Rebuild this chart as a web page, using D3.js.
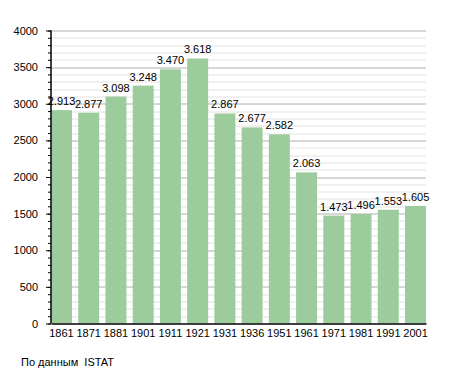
<!DOCTYPE html>
<html>
<head>
<meta charset="utf-8">
<script src="https://cdn.jsdelivr.net/npm/d3@7"></script>
<style>
  body { margin: 0; background: #fff; }
  text { font-family: "Liberation Sans", Arial, sans-serif; }
</style>
</head>
<body>
<div id="chart"></div>
<script>
// Chart data
var years = ["1861", "1871", "1881", "1901", "1911", "1921", "1931", "1936", "1951", "1961", "1971", "1981", "1991", "2001"];
var population = [2913, 2877, 3098, 3248, 3470, 3618, 2867, 2677, 2582, 2063, 1473, 1496, 1553, 1605];
var valueLabels = ["2.913", "2.877", "3.098", "3.248", "3.470", "3.618", "2.867", "2.677", "2.582", "2.063", "1.473", "1.496", "1.553", "1.605"];
var yTicks = [0, 500, 1000, 1500, 2000, 2500, 3000, 3500, 4000];

var svgWidth = 455;
var svgHeight = 373;

var chartMargin = { top: 30.5, right: 29, bottom: 49.5, left: 51 };
var chartWidth = svgWidth - chartMargin.left - chartMargin.right;
var chartHeight = svgHeight - chartMargin.top - chartMargin.bottom;

var svg = d3.select("#chart")
  .append("svg")
  .attr("width", svgWidth)
  .attr("height", svgHeight);

var chartGroup = svg.append("g")
  .attr("transform", `translate(${chartMargin.left}, ${chartMargin.top})`);

var xBandScale = d3.scaleBand()
  .domain(years)
  .range([0, chartWidth])
  .paddingInner(0.23)
  .paddingOuter(0);

var yLinearScale = d3.scaleLinear()
  .domain([0, 4000])
  .range([chartHeight, 0]);

// minor gridlines every 100
chartGroup.append("g")
  .selectAll("line")
  .data(d3.range(100, 4001, 100).filter(v => v % 500 !== 0))
  .enter()
  .append("line")
  .attr("x1", 0)
  .attr("x2", chartWidth)
  .attr("y1", v => Math.round(yLinearScale(v)) + 0.5)
  .attr("y2", v => Math.round(yLinearScale(v)) + 0.5)
  .attr("stroke", "#e2e2e2")
  .attr("stroke-width", 1);

// major gridlines every 500
chartGroup.append("g")
  .selectAll("line")
  .data(yTicks.filter(v => v > 0))
  .enter()
  .append("line")
  .attr("x1", 0)
  .attr("x2", chartWidth)
  .attr("y1", v => Math.round(yLinearScale(v)) + 0.5)
  .attr("y2", v => Math.round(yLinearScale(v)) + 0.5)
  .attr("stroke", "#b0b0b0")
  .attr("stroke-width", 1);

// bars
chartGroup.selectAll(".bar")
  .data(years)
  .enter()
  .append("rect")
  .attr("class", "bar")
  .attr("x", (d, i) => xBandScale(d))
  .attr("y", (d, i) => yLinearScale(population[i]))
  .attr("width", xBandScale.bandwidth())
  .attr("height", (d, i) => chartHeight - yLinearScale(population[i]))
  .attr("fill", "#9ccc9c");

// value labels
chartGroup.selectAll(".val")
  .data(years)
  .enter()
  .append("text")
  .attr("class", "val")
  .attr("x", d => xBandScale(d) + xBandScale.bandwidth() / 2)
  .attr("y", (d, i) => yLinearScale(population[i]) - 5)
  .attr("text-anchor", "middle")
  .attr("font-size", "11px")
  .attr("fill", "#000")
  .text((d, i) => valueLabels[i]);

// y axis with minor ticks
var minorAxis = d3.axisLeft(yLinearScale)
  .tickValues(d3.range(0, 4001, 100))
  .tickSize(3)
  .tickFormat("");
chartGroup.append("g")
  .call(minorAxis)
  .call(g => g.select(".domain").remove())
  .selectAll("line").attr("stroke", "#000");

var leftAxis = d3.axisLeft(yLinearScale)
  .tickValues(yTicks)
  .tickSize(5)
  .tickPadding(8)
  .tickFormat(d3.format("d"));
var yAxisG = chartGroup.append("g").call(leftAxis);
yAxisG.select(".domain").attr("stroke", "#000").attr("stroke-width", 1.5)
  .attr("d", `M0,0V${chartHeight}`);
yAxisG.selectAll("text")
  .attr("font-size", "11px")
  .attr("font-family", "Liberation Sans, Arial, sans-serif")
  .attr("fill", "#000");

var bottomAxis = d3.axisBottom(xBandScale).tickSize(0).tickPadding(6);
var xAxisG = chartGroup.append("g")
  .attr("transform", `translate(0, ${chartHeight})`)
  .call(bottomAxis);
xAxisG.select(".domain").attr("stroke", "#000").attr("stroke-width", 1.5);
xAxisG.selectAll("text")
  .attr("font-size", "11px")
  .attr("font-family", "Liberation Sans, Arial, sans-serif")
  .attr("fill", "#000");

// source note
svg.append("text")
  .attr("x", 21)
  .attr("y", 366)
  .attr("font-size", "11px")
  .attr("fill", "#000")
  .text("По данным  ISTAT")
  .attr("xml:space", "preserve");
</script>
</body>
</html>
